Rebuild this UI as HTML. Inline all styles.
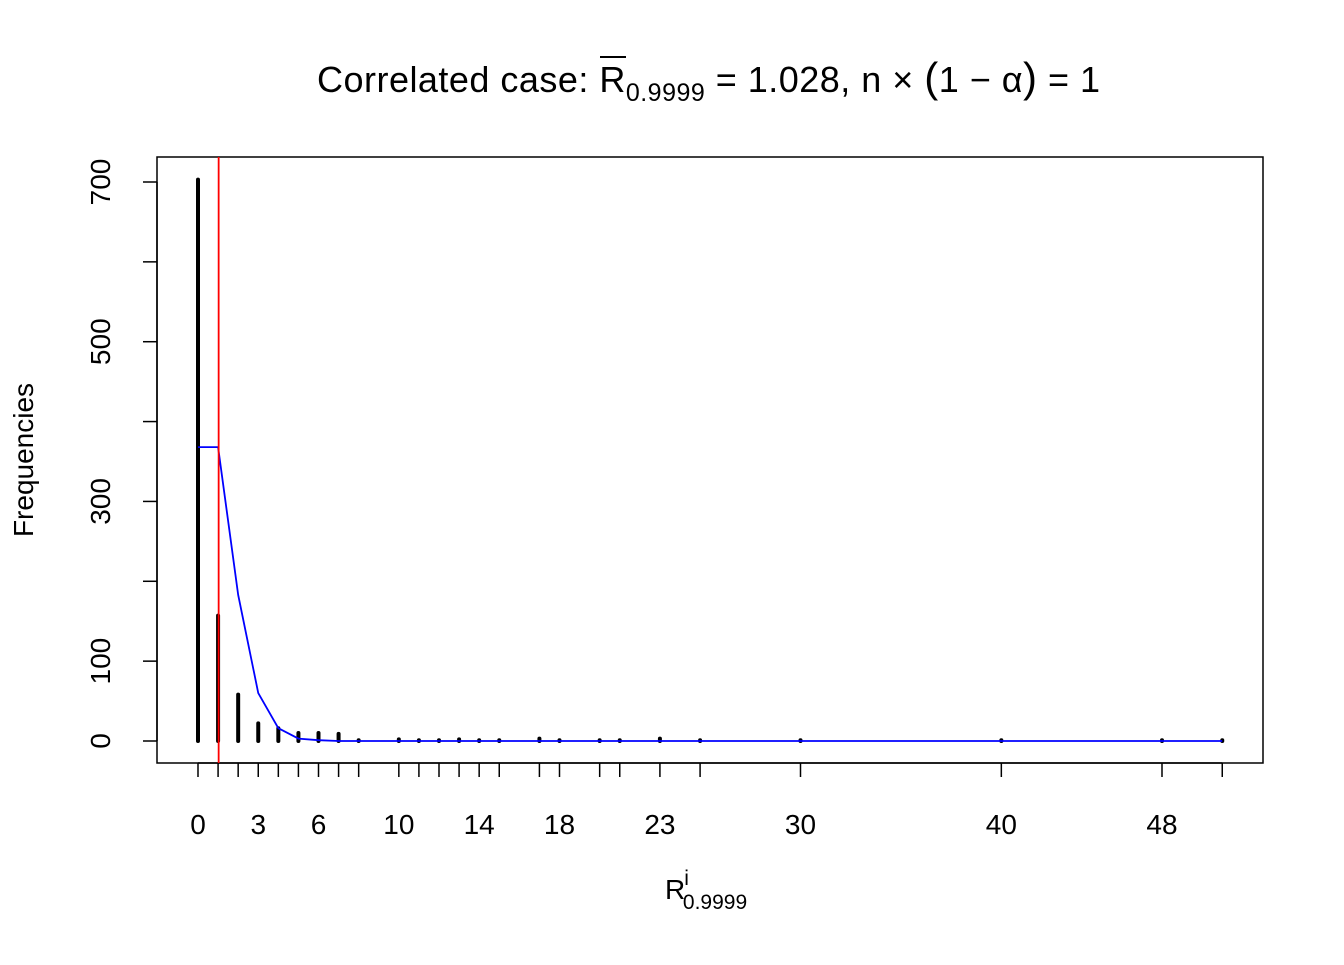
<!DOCTYPE html>
<html><head><meta charset="utf-8"><style>
body{margin:0;background:#fff}
svg text{font-family:"Liberation Sans",Arial,sans-serif;fill:#000}
</style></head><body>
<svg id="chart" width="1344" height="960">
<text x="317" y="92" font-size="36" textLength="783" lengthAdjust="spacing">Correlated case: <tspan>R</tspan><tspan font-size="25" dy="9">0.9999</tspan><tspan dy="-9"> = 1.028, n × </tspan><tspan font-size="42">(</tspan>1 − α<tspan font-size="42">)</tspan> = 1</text>
<line x1="600" y1="57" x2="626" y2="57" stroke="#000" stroke-width="2"/>
<rect x="157" y="157" width="1106" height="606" fill="none" stroke="#000" stroke-width="1.5"/>
<g id="xaxis"></g>
<g id="yaxis"></g>
<g id="bars"></g>
<text x="33" y="460" font-size="28" text-anchor="middle" transform="rotate(-90 33 460)">Frequencies</text>
<text x="665" y="899" font-size="28">R<tspan font-size="21" dx="-1" dy="-14">i</tspan><tspan font-size="21" dx="-6" dy="24">0.9999</tspan></text>
</svg>
<script>
const categories=[0,1,2,3,4,5,6,7,8,10,11,12,13,14,15,17,18,20,21,23,25,30,40,48,51];
const freqs=[703,157,58,22,16,10,10,9,1,2,1,1,2,1,1,3,1,1,1,3,1,1,1,1,1];
const fitted=[368,368,183,60,16,3,1,0,0,0,0,0,0,0,0,0,0,0,0,0,0,0,0,0,0];
const xLabels=[0,3,6,10,14,18,23,30,40,48];
const yTicks=[0,100,200,300,400,500,600,700];
const yLabels=[0,100,300,500,700];
const meanR=1.028;
const NS="http://www.w3.org/2000/svg";
const sx=v=>198+v*(1162-198)/48;
const sy=v=>741-v*(741-182)/700;
function mk(tag,attrs,parent){const e=document.createElementNS(NS,tag);for(const k in attrs)e.setAttribute(k,attrs[k]);document.getElementById(parent).appendChild(e);return e;}
categories.forEach((c,i)=>{
 const t=mk('line',{x1:sx(c),x2:sx(c),y1:763,y2:777,stroke:'#000','stroke-width':1.5},'xaxis');
 
 
 const b=mk('line',{x1:sx(c),x2:sx(c),y1:sy(0),y2:sy(freqs[i]),stroke:'#000','stroke-width':4,'stroke-linecap':'round'},'bars');
 
 
});
xLabels.forEach(v=>{
 const t=mk('text',{x:sx(v),y:834,'font-size':28,'text-anchor':'middle'},'xaxis');t.textContent=v;
 
 
});
mk('line',{x1:sx(0),x2:sx(51),y1:763,y2:763,stroke:'#000','stroke-width':1.5},'xaxis');
yTicks.forEach(v=>{
 const t=mk('line',{x1:143,x2:157,y1:sy(v),y2:sy(v),stroke:'#000','stroke-width':1.5},'yaxis');
 
 
});
mk('line',{x1:157,x2:157,y1:sy(0),y2:sy(700),stroke:'#000','stroke-width':1.5},'yaxis');
yLabels.forEach(v=>{
 const t=mk('text',{x:110,y:sy(v),'font-size':28,'text-anchor':'middle',transform:`rotate(-90 110 ${sy(v)})`},'yaxis');t.textContent=v;
 
 
});
const pl=mk('polyline',{points:categories.map((c,i)=>sx(c)+','+sy(fitted[i])).join(' '),fill:'none',stroke:'#0000ff','stroke-width':1.8},'bars');


const rl=mk('line',{x1:sx(meanR),x2:sx(meanR),y1:157,y2:763,stroke:'#ff0000','stroke-width':1.8},'bars');


</script>
</body></html>
